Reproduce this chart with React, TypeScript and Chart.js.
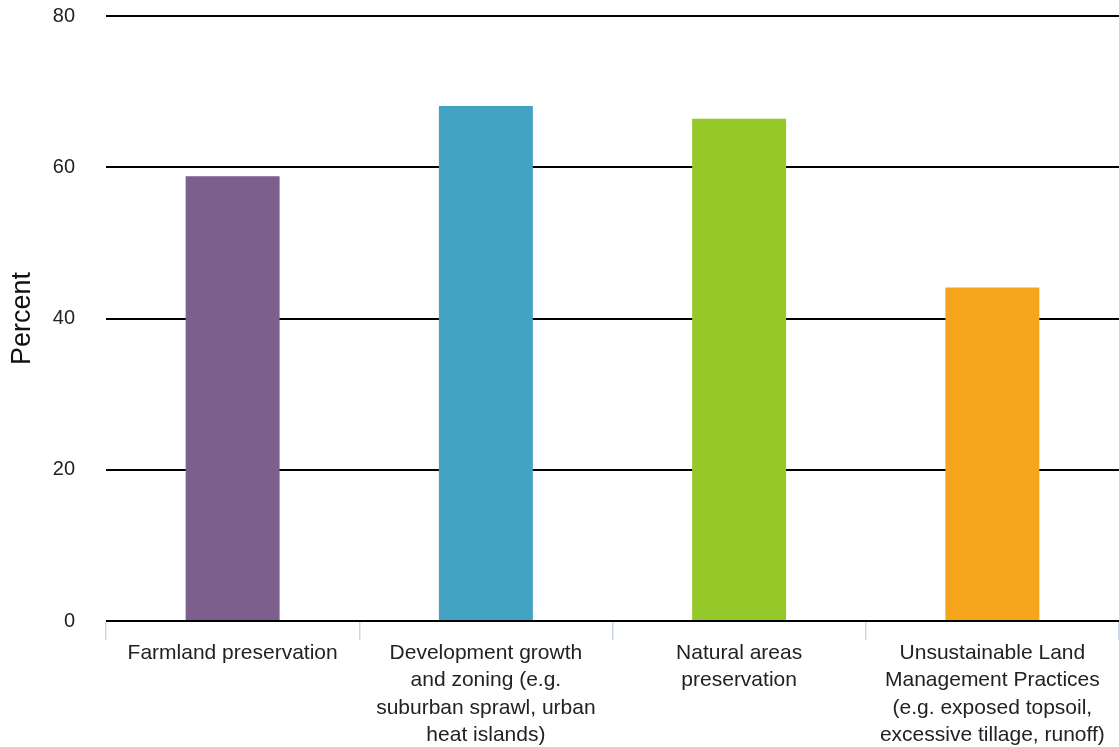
import React, { useEffect, useRef } from "react";
import { Chart, registerables } from "chart.js";

Chart.register(...registerables);

const categories: string[][] = [
  ["Farmland preservation"],
  ["Development growth", "and zoning (e.g.", "suburban sprawl, urban", "heat islands)"],
  ["Natural areas", "preservation"],
  ["Unsustainable Land", "Management Practices", "(e.g. exposed topsoil,", "excessive tillage, runoff)"],
];
const percentValues: number[] = [58.8, 68.1, 66.4, 44.1];
const barColors: string[] = ["#7D5F8D", "#41A3C1", "#95C829", "#F4A51C"];
const yTicks: number[] = [0, 20, 40, 60, 80];

export default function App() {
  const ref = useRef<HTMLCanvasElement | null>(null);
  useEffect(() => {
    if (!ref.current) return;
    const font = "'Liberation Sans', Arial, Helvetica, sans-serif";
    const chart = new Chart(ref.current, {
      type: "bar",
      data: {
        labels: categories,
        datasets: [
          {
            data: percentValues,
            backgroundColor: barColors,
            borderWidth: 0,
            categoryPercentage: 1,
            barPercentage: 0.371,
          },
        ],
      },
      options: {
        responsive: false,
        animation: false,
        layout: { padding: { top: 16, right: 0, left: 0, bottom: 0 } },
        plugins: { legend: { display: false }, tooltip: { enabled: false } },
        scales: {
          x: {
            border: { display: false },
            afterFit: (scale: any) => {
              scale.height = 126;
              scale.paddingTop = 0;
              scale.paddingBottom = 0;
            },
            grid: {
              drawOnChartArea: false,
              drawTicks: true,
              tickLength: 19,
              color: "#ccd6eb",
              lineWidth: 1.5,
            },
            ticks: {
              color: "#222",
              padding: 0,
              maxRotation: 0,
              autoSkip: false,
              font: { family: font, size: 21, lineHeight: 1.29 },
            },
          },
          y: {
            min: 0,
            max: 80,
            afterBuildTicks: (scale: any) => {
              scale.ticks = yTicks.map((v) => ({ value: v }));
            },
            afterFit: (scale: any) => {
              scale.width = 106;
              scale.paddingTop = 0;
              scale.paddingBottom = 0;
            },
            border: { display: false },
            grid: { color: "#000", lineWidth: 2, drawTicks: false },
            ticks: {
              color: "#222",
              padding: 31,
              font: { family: font, size: 20 },
            },
            title: {
              display: true,
              text: "Percent",
              color: "#111",
              padding: { top: 9, bottom: 0 },
              font: { family: font, size: 27, lineHeight: 1.0 },
            },
          },
        },
      },
    });
    return () => chart.destroy();
  }, []);
  return (
    <div style={{ position: "absolute", left: 0, top: 0, width: 1119, height: 747, background: "#fff" }}>
      <canvas ref={ref} width={1119} height={747} style={{ display: "block" }} />
    </div>
  );
}
